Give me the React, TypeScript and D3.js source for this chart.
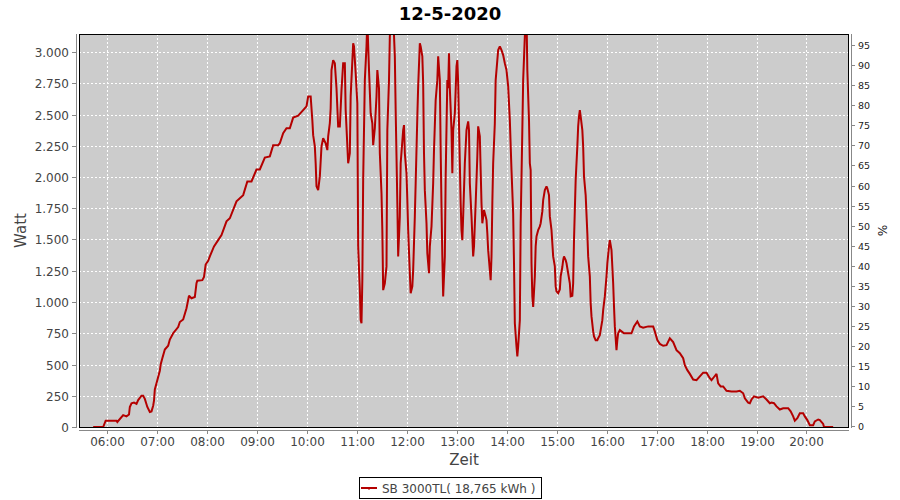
import React from 'react';
import * as d3 from 'd3';

const chartTitle = '12-5-2020';
const xAxisLabel = 'Zeit';
const yAxisLabel = 'Watt';
const y2AxisLabel = '%';
const seriesName = 'SB 3000TL( 18,765 kWh )';

const xDomain = ['05:27', '20:51'];
const wattMax = 3144;
const percentMax = 97.8;

const hourTicks = ['06:00', '07:00', '08:00', '09:00', '10:00', '11:00', '12:00', '13:00', '14:00', '15:00', '16:00', '17:00', '18:00', '19:00', '20:00'];
const wattTicks = [0, 250, 500, 750, 1000, 1250, 1500, 1750, 2000, 2250, 2500, 2750, 3000];
const percentTicks = [0, 5, 10, 15, 20, 25, 30, 35, 40, 45, 50, 55, 60, 65, 70, 75, 80, 85, 90, 95];

const times = [
  '05:44', '05:56', '05:59', '06:12', '06:13', '06:20', '06:24', '06:27', '06:28', '06:30',
  '06:33', '06:36', '06:38', '06:42', '06:44', '06:46', '06:49', '06:52', '06:54', '06:56',
  '06:57', '06:58', '07:00', '07:02', '07:04', '07:05', '07:07', '07:10', '07:14', '07:16',
  '07:20', '07:26', '07:28', '07:32', '07:36', '07:39', '07:42', '07:46', '07:48', '07:49',
  '07:55', '07:57', '07:59', '08:02', '08:04', '08:09', '08:14', '08:18', '08:24', '08:28',
  '08:36', '08:44', '08:49', '08:54', '09:00', '09:04', '09:10', '09:16', '09:20', '09:26',
  '09:28', '09:32', '09:36', '09:40', '09:44', '09:50', '09:56', '10:00', '10:02', '10:05',
  '10:07', '10:08', '10:10', '10:11', '10:12', '10:14', '10:16', '10:18', '10:20', '10:23',
  '10:25', '10:26', '10:28', '10:29', '10:30', '10:32', '10:34', '10:36', '10:38', '10:40',
  '10:42', '10:44', '10:46', '10:47', '10:50', '10:52', '10:53', '10:56', '10:57', '10:59',
  '11:01', '11:02', '11:04', '11:05', '11:06', '11:07', '11:08', '11:10', '11:12', '11:13',
  '11:15', '11:17', '11:19', '11:20', '11:22', '11:24', '11:25', '11:27', '11:28', '11:30',
  '11:31', '11:32', '11:34', '11:36', '11:37', '11:39', '11:40', '11:42', '11:44', '11:46',
  '11:47', '11:48', '11:49', '11:50', '11:52', '11:53', '11:56', '11:57', '11:58', '12:00',
  '12:01', '12:02', '12:04', '12:05', '12:07', '12:08', '12:10', '12:11', '12:13', '12:14',
  '12:16', '12:17', '12:19', '12:20', '12:21', '12:22', '12:24', '12:25', '12:27', '12:28',
  '12:30', '12:32', '12:33', '12:35', '12:37', '12:38', '12:40', '12:41', '12:42', '12:43',
  '12:44', '12:46', '12:47', '12:49', '12:50', '12:51', '12:52', '12:54', '12:55', '12:56',
  '12:58', '13:00', '13:01', '13:02', '13:04', '13:05', '13:06', '13:07', '13:08', '13:10',
  '13:12', '13:14', '13:15', '13:16', '13:18', '13:20', '13:21', '13:23', '13:25', '13:26',
  '13:28', '13:29', '13:30', '13:31', '13:33', '13:35', '13:36', '13:37', '13:38', '13:40',
  '13:41', '13:42', '13:43', '13:44', '13:46', '13:47', '13:49', '13:50', '13:52', '13:54',
  '13:56', '13:58', '14:00', '14:02', '14:04', '14:06', '14:08', '14:09', '14:10', '14:12',
  '14:13', '14:14', '14:16', '14:17', '14:19', '14:20', '14:22', '14:24', '14:25', '14:27',
  '14:28', '14:29', '14:30', '14:31', '14:32', '14:34', '14:35', '14:36', '14:38', '14:40',
  '14:41', '14:43', '14:44', '14:46', '14:48', '14:49', '14:51', '14:52', '14:54', '14:55',
  '14:56', '14:58', '14:59', '15:00', '15:02', '15:04', '15:05', '15:07', '15:08', '15:09',
  '15:11', '15:12', '15:14', '15:16', '15:17', '15:19', '15:20', '15:21', '15:23', '15:25',
  '15:26', '15:27', '15:28', '15:29', '15:31', '15:32', '15:33', '15:35', '15:37', '15:38',
  '15:40', '15:41', '15:42', '15:44', '15:45', '15:47', '15:49', '15:50', '15:52', '15:53',
  '15:55', '15:56', '15:58', '16:00', '16:01', '16:03', '16:04', '16:06', '16:08', '16:09',
  '16:10', '16:12', '16:13', '16:14', '16:16', '16:18', '16:21', '16:26', '16:30', '16:33',
  '16:37', '16:40', '16:44', '16:50', '16:56', '16:58', '17:01', '17:04', '17:08', '17:12',
  '17:16', '17:20', '17:24', '17:28', '17:32', '17:34', '17:37', '17:40', '17:44', '17:48',
  '17:52', '17:56', '18:00', '18:04', '18:06', '18:09', '18:12', '18:14', '18:17', '18:20',
  '18:24', '18:30', '18:36', '18:40', '18:44', '18:46', '18:50', '18:52', '18:54', '18:57',
  '19:02', '19:08', '19:12', '19:16', '19:18', '19:21', '19:24', '19:28', '19:32', '19:38',
  '19:41', '19:44', '19:46', '19:49', '19:52', '19:56', '19:58', '20:01', '20:04', '20:08',
  '20:10', '20:14', '20:16', '20:20', '20:21', '20:32',
];

const watts = [
  0, 0, 50, 50, 40, 95, 85, 100, 160, 190,
  195, 185, 215, 250, 250, 225, 160, 120, 125, 170,
  210, 300, 350, 400, 450, 500, 550, 620, 650, 700,
  750, 800, 840, 860, 950, 1050, 1030, 1040, 1150, 1170,
  1175, 1200, 1300, 1330, 1365, 1445, 1495, 1535, 1645, 1670,
  1805, 1855, 1965, 1965, 2060, 2060, 2155, 2165, 2255, 2255,
  2270, 2350, 2390, 2390, 2475, 2490, 2535, 2565, 2645, 2645,
  2455, 2335, 2245, 2110, 1925, 1895, 2005, 2245, 2310, 2270,
  2215, 2325, 2430, 2550, 2855, 2935, 2910, 2710, 2405, 2405,
  2695, 2910, 2910, 2535, 2110, 2190, 2645, 3070, 3045, 2830,
  2590, 1445, 1095, 855, 830, 1175, 1975, 2775, 3045, 3250,
  2855, 2510, 2430, 2255, 2390, 2645, 2855, 2710, 2190, 1870,
  1575, 1095, 1150, 1285, 2375, 2775, 3125, 3300, 3300, 2965,
  2535, 2165, 1790, 1365, 1685, 2110, 2375, 2415, 2190, 2030,
  1815, 1575, 1230, 1070, 1125, 1255, 1685, 1950, 2485, 2725,
  3070, 3045, 2965, 2750, 2190, 1895, 1630, 1390, 1230, 1445,
  1605, 1950, 2215, 2615, 2775, 2965, 2775, 2215, 1765, 1365,
  1045, 1365, 2005, 2775, 2710, 2990, 2710, 2375, 2030, 2375,
  2510, 2885, 2935, 2750, 2110, 1790, 1575, 1495, 1685, 2110,
  2375, 2445, 2375, 1950, 1685, 1365, 1445, 1790, 2165, 2405,
  2325, 2055, 1790, 1630, 1735, 1685, 1655, 1550, 1415, 1255,
  1175, 1365, 1790, 2110, 2430, 2775, 2935, 3015, 3045, 3015,
  2975, 2910, 2855, 2725, 2455, 2055, 1710, 1310, 830, 645,
  565, 645, 855, 1630, 2375, 2775, 3125, 3300, 2855, 2455,
  2110, 2055, 1310, 1045, 960, 1205, 1445, 1525, 1575, 1605,
  1630, 1725, 1815, 1895, 1925, 1910, 1855, 1685, 1575, 1470,
  1365, 1285, 1125, 1085, 1070, 1100, 1205, 1280, 1335, 1365,
  1335, 1310, 1230, 1150, 1045, 1050, 1150, 1495, 1975, 2245,
  2405, 2485, 2535, 2485, 2375, 2245, 2005, 1855, 1550, 1365,
  1205, 990, 885, 765, 725, 695, 695, 710, 735, 775,
  855, 935, 1045, 1205, 1310, 1445, 1495, 1415, 1150, 965,
  805, 615, 695, 750, 775, 765, 750, 750, 750, 805,
  845, 805, 795, 805, 805, 765, 695, 665, 650, 655,
  710, 680, 615, 590, 550, 495, 455, 425, 380, 375,
  405, 435, 435, 390, 375, 400, 425, 350, 325, 325,
  290, 285, 285, 290, 270, 230, 195, 190, 220, 245,
  235, 245, 220, 190, 195, 190, 165, 140, 150, 150,
  125, 85, 50, 70, 110, 110, 85, 55, 15, 15,
  45, 60, 55, 25, 0, 0,
];

const W = 900;
const H = 500;
const plot = { left: 79, right: 849, top: 34, bottom: 427 };
const FONT = '"DejaVu Sans", sans-serif';
const LINE_COLOR = '#b40000';
const TEXT_COLOR = '#444444';
const AXIS_COLOR = '#888888';

const parseTime = d3.timeParse('%H:%M');
const fmtWatt = d3.formatLocale({ decimal: ',', thousands: '.', grouping: [3], currency: ['', ''] }).format(',d');

export default function App() {
  const x = d3.scaleTime()
    .domain(xDomain.map((t) => parseTime(t) as Date))
    .range([plot.left, plot.right]);
  const y = d3.scaleLinear().domain([0, wattMax]).range([plot.bottom, plot.top]);
  const y2 = d3.scaleLinear().domain([0, percentMax]).range([plot.bottom - 1, plot.top]);

  const data = times.map((t, i) => ({ t: parseTime(t) as Date, v: watts[i] }));
  const line = d3.line<{ t: Date; v: number }>()
    .x((d) => x(d.t))
    .y((d) => y(d.v));

  const xAxisY = plot.bottom + 3;
  const yAxisX = plot.left - 3;
  const y2AxisX = plot.right + 2;

  return (
    <svg width={W} height={H} style={{ position: 'absolute', left: 0, top: 0, background: '#ffffff' }} fontFamily={FONT}>
      <defs>
        <clipPath id="plotClip">
          <rect x={plot.left} y={plot.top} width={plot.right - plot.left} height={plot.bottom - plot.top} />
        </clipPath>
      </defs>
      <rect x={0} y={0} width={W} height={H} fill="#ffffff" />

      <text x={450} y={20} textAnchor="middle" fontSize={18} fontWeight="bold" fill="#000">{chartTitle}</text>

      <rect x={plot.left} y={plot.top} width={plot.right - plot.left} height={plot.bottom - plot.top} fill="#cccccc" />

      {hourTicks.map((h) => {
        const xx = Math.round(x(parseTime(h) as Date)) + 0.5;
        return <line key={'gx' + h} x1={xx} x2={xx} y1={plot.top} y2={plot.bottom} stroke="#ffffff" strokeWidth={1} strokeDasharray="2,2" />;
      })}
      {wattTicks.map((v) => {
        const yy = Math.round(y(v)) + 0.5;
        if (v === 0) return null;
        return <line key={'gy' + v} x1={plot.left} x2={plot.right} y1={yy} y2={yy} stroke="#ffffff" strokeWidth={1} strokeDasharray="2,2" />;
      })}

      <path d={line(data) || ''} fill="none" stroke={LINE_COLOR} strokeWidth={2} strokeLinejoin="miter" strokeMiterlimit={2} clipPath="url(#plotClip)" />

      <rect x={plot.left + 0.5} y={plot.top + 0.5} width={plot.right - plot.left - 1} height={plot.bottom - plot.top} fill="none" stroke="#000" strokeWidth={1} />

      {/* left axis */}
      <line x1={yAxisX + 0.5} x2={yAxisX + 0.5} y1={plot.top} y2={plot.bottom + 1} stroke={AXIS_COLOR} />
      {wattTicks.map((v) => {
        const yy = Math.round(y(v)) + 0.5;
        return (
          <g key={'ly' + v}>
            <line x1={yAxisX - 4} x2={yAxisX} y1={yy} y2={yy} stroke={AXIS_COLOR} />
            <text x={yAxisX - 7} y={yy + 4.5} textAnchor="end" fontSize={12} fill={TEXT_COLOR}>{fmtWatt(v)}</text>
          </g>
        );
      })}
      <text transform={`translate(26,${(plot.top + plot.bottom) / 2}) rotate(-90)`} textAnchor="middle" fontSize={15} fill={TEXT_COLOR}>{yAxisLabel}</text>

      {/* bottom axis */}
      <line x1={plot.left} x2={plot.right} y1={xAxisY + 0.5} y2={xAxisY + 0.5} stroke={AXIS_COLOR} />
      {hourTicks.map((h) => {
        const xx = Math.round(x(parseTime(h) as Date)) + 0.5;
        return (
          <g key={'bx' + h}>
            <line x1={xx} x2={xx} y1={xAxisY} y2={xAxisY + 4} stroke={AXIS_COLOR} />
            <text x={xx} y={xAxisY + 16} textAnchor="middle" fontSize={12} fill={TEXT_COLOR}>{h}</text>
          </g>
        );
      })}
      <text x={(plot.left + plot.right) / 2} y={465} textAnchor="middle" fontSize={15} fill={TEXT_COLOR}>{xAxisLabel}</text>

      {/* right axis */}
      <line x1={y2AxisX + 0.5} x2={y2AxisX + 0.5} y1={plot.top} y2={plot.bottom + 1} stroke={AXIS_COLOR} />
      {percentTicks.map((p) => {
        const yy = Math.round(y2(p)) + 0.5;
        return (
          <g key={'ry' + p}>
            <line x1={y2AxisX} x2={y2AxisX + 4} y1={yy} y2={yy} stroke={AXIS_COLOR} />
            <text x={y2AxisX + 7} y={yy + 3.5} textAnchor="start" fontSize={9.5} fill="#222">{p}</text>
          </g>
        );
      })}
      <text transform={`translate(878,${(plot.top + plot.bottom) / 2}) rotate(90)`} textAnchor="middle" fontSize={12} fill="#222">{y2AxisLabel}</text>

      {/* legend */}
      <rect x={359.5} y={477.5} width={182} height={21} fill="#ffffff" stroke="#000" strokeWidth={1} />
      <line x1={361} x2={377} y1={488} y2={488} stroke={LINE_COLOR} strokeWidth={2} />
      <line x1={369} x2={369} y1={488} y2={490} stroke={LINE_COLOR} strokeWidth={1} />
      <text x={382} y={492.5} fontSize={12} fill={TEXT_COLOR}>{seriesName}</text>
    </svg>
  );
}
